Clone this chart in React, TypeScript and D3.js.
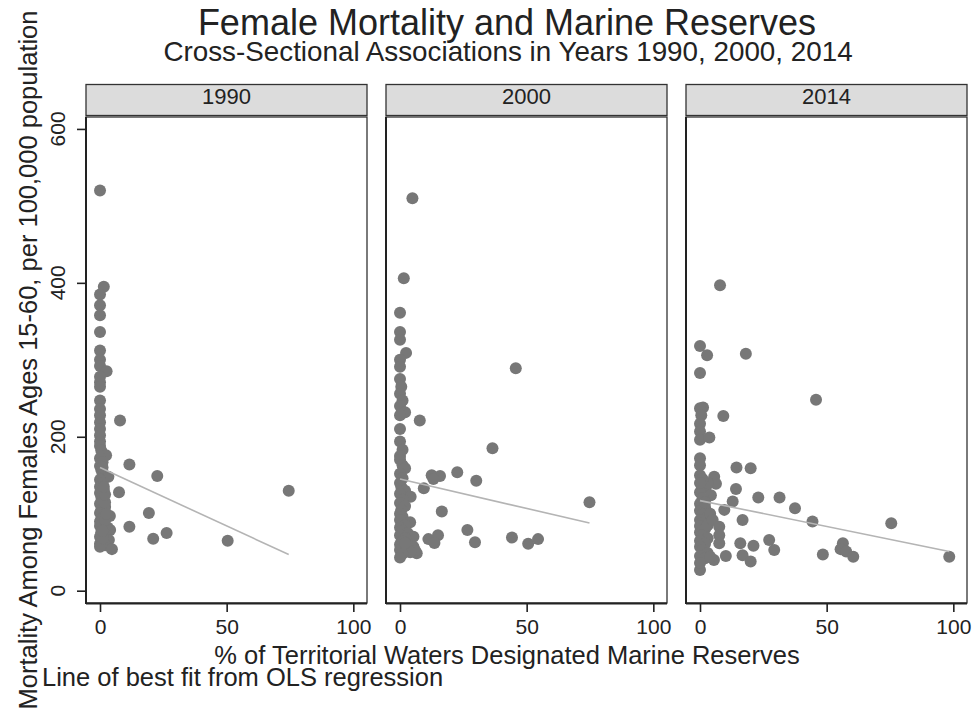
import React, { useEffect, useRef } from 'react';
import * as d3 from 'd3';

// [% marine reserves, mortality per 100,000]
const data1990: [number, number][] = [
  [0, 520], [1.5, 395], [0, 385], [0, 371], [0, 358], [0, 336], [0, 312], [0, 300], [0, 292], [2.6, 285],
  [0, 278], [0, 271], [0, 265], [0, 247], [0, 236], [0, 228], [0, 219], [0, 210], [0, 202], [0, 194],
  [0, 188], [0.5, 182], [2.4, 176], [0, 172], [1, 167], [0, 162], [0.5, 157], [1, 152], [3.3, 148], [0, 144],
  [1, 140], [0, 135], [1.5, 131], [0, 127], [0.5, 122], [1, 118], [0, 113], [2, 109], [0.5, 105], [3.9, 97],
  [0, 101], [1, 94], [0, 90], [1.5, 87], [0, 84], [3, 82], [4, 79], [0.5, 76], [2, 73], [0, 70],
  [3.5, 66], [1, 64], [0, 61], [2, 59], [4.7, 54], [0, 57], [1, 68], [2, 92], [2.5, 100], [1, 78],
  [2, 115], [2, 125], [1.5, 135], [1, 160],
  [7.9, 221], [11.6, 164], [22.6, 149], [7.5, 128], [74.5, 130], [19.3, 101], [11.6, 83], [21, 67.5],
  [26.3, 75], [50.4, 65]
];

const data2000: [number, number][] = [
  [4.9, 510], [1.5, 406], [0, 361], [0, 336], [0, 326], [2.4, 309], [0, 300], [0, 291], [0, 275], [0.5, 265],
  [0, 256], [1, 247], [0, 240], [2, 232], [0, 228], [0, 210], [0, 194], [1, 183], [0, 175], [0, 170],
  [1, 163], [2, 159], [0, 152], [1, 146], [0, 140], [0.5, 135], [2, 130], [0, 126], [4.2, 122], [1, 118],
  [0, 114], [2, 110], [0.5, 105], [0, 100], [1, 96], [4, 89], [0, 92], [2, 85], [0, 82], [1, 78],
  [3, 75], [5.3, 70], [0, 72], [2, 68], [1, 64], [0, 60], [3, 58], [6.6, 48.5], [5.3, 57], [6, 52],
  [4, 50], [0, 53], [1, 48], [0, 43], [2, 62],
  [45.7, 289], [7.8, 221], [36.5, 185], [12.5, 150], [15.8, 149], [13.2, 145], [22.6, 154], [30.1, 143],
  [9.4, 133], [74.8, 115], [16.5, 103], [26.6, 79], [11.2, 67], [15, 72], [13.6, 62], [29.6, 63],
  [44.2, 69], [50.6, 61], [54.5, 67]
];

const data2014: [number, number][] = [
  [7.9, 397], [0, 318], [2.8, 306], [18.1, 308], [0, 283], [45.8, 248], [1.2, 238], [0, 237], [0.5, 228], [0, 217],
  [0, 207], [0, 196], [9.2, 227], [3.7, 199], [0, 172], [0, 163], [0, 150], [14.4, 160], [20, 159], [5.6, 148],
  [6.3, 139], [14.2, 132], [2.4, 135], [4.3, 124], [23, 121], [31.4, 121], [12.9, 116], [37.5, 107], [9.6, 105], [44.4, 90],
  [75.5, 87.5], [16.8, 92], [7.6, 83], [7.6, 72], [7.6, 61.5], [15.9, 61.5], [21.1, 58.4], [27.3, 65.8], [29.3, 53], [16.8, 46],
  [20, 38], [48.5, 47], [56.4, 61.5], [55.5, 54], [57.7, 51], [60.5, 44], [98.4, 44], [10.2, 45], [5.5, 40], [0, 27],
  [0, 128], [1, 120], [0, 113], [2, 108], [0, 104], [1, 99], [3, 95], [0, 92], [1, 88], [0, 84],
  [2, 80], [0, 76], [1, 72], [3, 68], [0, 65], [2, 61], [0, 57], [1, 53], [3, 49], [0, 45],
  [2, 42], [0, 36], [4, 44], [4, 100], [2, 115], [3, 140], [1, 145], [0, 140], [3, 85], [5, 92]
];

// OLS fit endpoints: [x0, y0, x1, y1]
const fit1990 = [0, 160, 74.5, 47];
const fit2000 = [0, 145, 74.8, 88];
const fit2014 = [0, 117, 98.4, 51];

const years = ['1990', '2000', '2014'];
const xTicks = [0, 50, 100];
const yTicks = [0, 200, 400, 600];

const panels = [
  { year: years[0], points: data1990, fit: fit1990 },
  { year: years[1], points: data2000, fit: fit2000 },
  { year: years[2], points: data2014, fit: fit2014 }
];

const FONT = '"Liberation Sans", Arial, Helvetica, sans-serif';

export default function App() {
  const ref = useRef<SVGSVGElement>(null);

  useEffect(() => {
    if (!ref.current) return;
    const svg = d3.select(ref.current);
    svg.selectAll('*').remove();

    const panelLefts = [86, 386, 686];
    const panelWidth = 281;
    const top = 117;
    const bottom = 603;

    const y = d3.scaleLinear().domain([-16, 615.5]).range([bottom, top]);

    svg.append('rect').attr('width', 973).attr('height', 716).attr('fill', '#fff');

    panels.forEach((p, i) => {
      const left = panelLefts[i];
      const x = d3.scaleLinear().domain([-5.53, 105.4]).range([left, left + panelWidth]);
      const g = svg.append('g');

      // header strip
      g.append('rect')
        .attr('x', left).attr('y', 84.5)
        .attr('width', panelWidth).attr('height', 31)
        .attr('fill', '#dcdcdc').attr('stroke', '#333').attr('stroke-width', 1.3);
      g.append('text')
        .attr('x', left + panelWidth / 2).attr('y', 104)
        .attr('text-anchor', 'middle')
        .attr('font-size', 22)
        .attr('fill', '#222')
        .text(p.year);

      // plot region
      g.append('rect')
        .attr('x', left).attr('y', top)
        .attr('width', panelWidth).attr('height', bottom - top)
        .attr('fill', '#fff').attr('stroke', '#333').attr('stroke-width', 1.3);

      // points
      g.selectAll('circle.pt')
        .data(p.points)
        .enter()
        .append('circle')
        .attr('class', 'pt')
        .attr('cx', d => x(d[0]))
        .attr('cy', d => y(d[1]))
        .attr('r', 6)
        .attr('fill', '#777');

      // fit line
      g.append('line')
        .attr('x1', x(p.fit[0])).attr('y1', y(p.fit[1]))
        .attr('x2', x(p.fit[2])).attr('y2', y(p.fit[3]))
        .attr('stroke', '#b4b4b4').attr('stroke-width', 1.6);

      // x axis
      const xa = g.append('g')
        .attr('transform', `translate(0,${bottom})`)
        .call(d3.axisBottom(x).tickValues(xTicks).tickSize(9).tickSizeOuter(0).tickFormat(d3.format('d')));
      xa.select('.domain').attr('stroke', '#222').attr('stroke-width', 2)
        .attr('d', `M${left},0.5H${left + panelWidth}`);
      xa.selectAll('.tick line').attr('stroke', '#222').attr('stroke-width', 1.6);
      xa.selectAll('.tick text')
        .attr('font-size', 21).attr('font-family', FONT).attr('fill', '#222')
        .attr('dy', null).attr('y', 31);

      // left edge line
      g.append('line')
        .attr('x1', left).attr('x2', left)
        .attr('y1', top).attr('y2', bottom + 1)
        .attr('stroke', '#222').attr('stroke-width', 2);

      if (i === 0) {
        const ya = g.append('g')
          .attr('transform', `translate(${left},0)`)
          .call(d3.axisLeft(y).tickValues(yTicks).tickSize(9).tickSizeOuter(0).tickFormat(d3.format('d')));
        ya.select('.domain').remove();
        ya.selectAll('.tick line').attr('stroke', '#222').attr('stroke-width', 1.6);
        ya.selectAll('.tick text').remove();
        yTicks.forEach(t => {
          g.append('text')
            .attr('transform', `translate(65,${y(t)}) rotate(-90)`)
            .attr('text-anchor', 'middle')
            .attr('font-size', 21)
            .attr('fill', '#222')
            .text(t);
        });
      }
    });

    // titles
    svg.append('text')
      .attr('x', 507).attr('y', 35)
      .attr('text-anchor', 'middle').attr('font-size', 36).attr('fill', '#222')
      .text('Female Mortality and Marine Reserves');
    svg.append('text')
      .attr('x', 508).attr('y', 61)
      .attr('text-anchor', 'middle').attr('font-size', 27.8).attr('fill', '#222')
      .text('Cross-Sectional Associations in Years 1990, 2000, 2014');
    svg.append('text')
      .attr('x', 507).attr('y', 664)
      .attr('text-anchor', 'middle').attr('font-size', 25.5).attr('fill', '#222')
      .text('% of Territorial Waters Designated Marine Reserves');
    svg.append('text')
      .attr('x', 42).attr('y', 686)
      .attr('font-size', 25.5).attr('fill', '#222')
      .text('Line of best fit from OLS regression');
    svg.append('text')
      .attr('transform', 'translate(37,360) rotate(-90)')
      .attr('text-anchor', 'middle').attr('font-size', 25.5).attr('fill', '#222')
      .text('Mortality Among Females Ages 15-60, per 100,000 population');
  }, []);

  return (
    <svg
      ref={ref}
      width={973}
      height={716}
      style={{ position: 'absolute', left: 0, top: 0, fontFamily: FONT }}
      fontFamily={FONT}
    />
  );
}
